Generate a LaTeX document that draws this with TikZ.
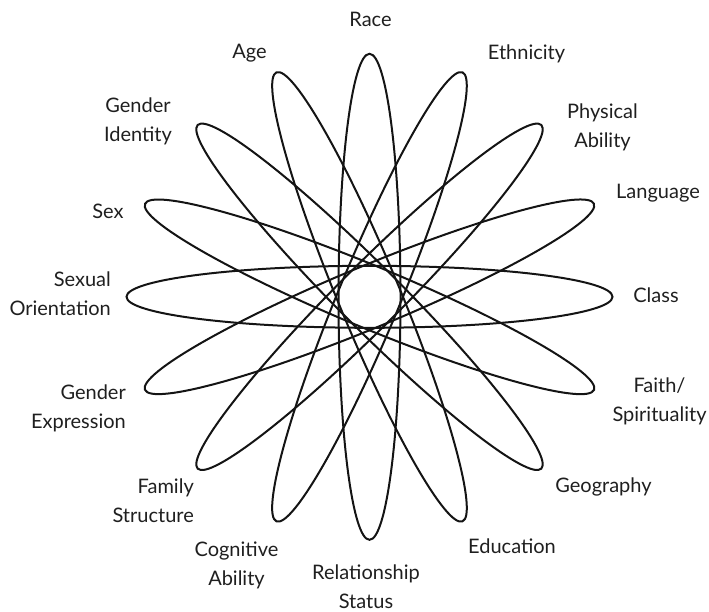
\documentclass[tikz,border=0pt]{standalone}
\usepackage{fontspec}
\setmainfont{Lato}
\begin{document}
\begin{tikzpicture}[x=1pt,y=-1pt,
  petal/.style={draw=black!92,line width=2pt},
  lbl/.style={font=\fontsize{20}{29}\selectfont,text=black!88,inner sep=0pt,anchor=base,align=center},
  lblr/.style={lbl,anchor=base east,align=right}]
\useasboundingbox (0,0) rectangle (709,611);
\coordinate (c) at (369.5,296.8);
\foreach \a in {0,22.5,...,157.5}{
  \draw[petal,rotate around={\a:(c)}] (c) ellipse [x radius=243,y radius=31];
}
\node[lbl] (race) at (370.5,26.7) {Race};
\node[lbl] (age) at (249.5,58) {Age};
\node[lbl] (eth) at (526.5,59) {Ethnicity};
\node[lbl] (phys) at (602.5,147) {Physical\\Ability};
\node[lbl] (lang) at (658,198) {Language};
\node[lbl] (class) at (656,302) {Class};
\node[lbl] (faith) at (659.5,421) {Faith/\\Spirituality};
\node[lbl] (geo) at (603.5,492) {Geography};
\node[lbl] (edu) at (512,553) {Education};
\node[lbl] (rel) at (366,608) {Relationship\\Status};
\node[lbl] (cog) at (236.5,585) {Cognitive\\Ability};
\node[lblr] (fam) at (194,522) {Family\\Structure};
\node[lblr] (gexp) at (126,428) {Gender\\Expression};
\node[lblr] (sor) at (111,315) {Sexual\\Orientation};
\node[lbl] (sex) at (108,218) {Sex};
\node[lbl] (gid) at (138,141) {Gender\\Identity};
\end{tikzpicture}
\end{document}
